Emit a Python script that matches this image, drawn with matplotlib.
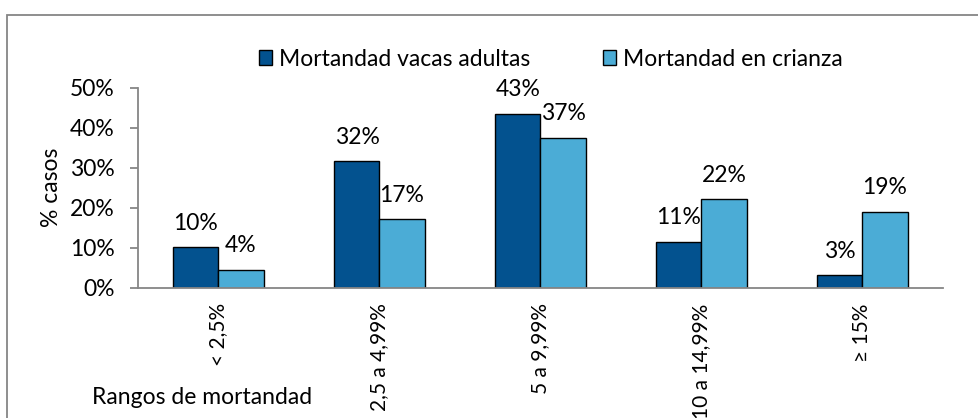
import numpy as np
import matplotlib
matplotlib.use('Agg')
import matplotlib.pyplot as plt
from matplotlib.patches import Rectangle, Patch

#Chart data
categories = ['< 2,5%', '2,5 a 4,99%', '5 a 9,99%', '10 a 14,99%', '\u2265 15%']
adultas = [10.25, 31.75, 43.5, 11.5, 3.25]
crianza = [4.5, 17.25, 37.5, 22.25, 19.0]
adultasLabels = ['10%', '32%', '43%', '11%', '3%']
crianzaLabels = ['4%', '17%', '37%', '22%', '19%']
yTicks = [0, 10, 20, 30, 40, 50]

darkBlue = '#03528F'
lightBlue = '#4BACD6'
gray = '#868686'
fs = 16.5

plt.rcParams['font.family'] = ['Lato', 'DejaVu Sans']

W, H = 979, 418
fig = plt.figure(figsize=(W / 100, H / 100), dpi=100)

#Outer chart border (runs off the right and bottom edges)
fig.patches.append(Rectangle((7 / W, -0.2), 1.2, 1.2 - 15 / H,
                             transform=fig.transFigure, fill=False,
                             edgecolor=gray, linewidth=1.3))

ax = fig.add_axes([138 / W, (H - 288) / H, (943 - 138) / W, 200 / H])

x = np.arange(len(categories))
w = 0.28
bars1 = ax.bar(x - w / 2, adultas, w, color=darkBlue, edgecolor='black', linewidth=1)
bars2 = ax.bar(x + w / 2, crianza, w, color=lightBlue, edgecolor='black', linewidth=1)

#Value labels above bars
for bars, labs in ((bars1, adultasLabels), (bars2, crianzaLabels)):
    for b, lab in zip(bars, labs):
        ax.annotate(lab, (b.get_x() + b.get_width() / 2, b.get_height()),
                    xytext=(0, 24), textcoords='offset pixels',
                    ha='center', va='center', fontsize=fs)

ax.set_xlim(-0.5, len(categories) - 0.5)
ax.set_ylim(0, 50)
ax.set_yticks(yTicks)
ax.set_yticklabels([f'{t}%' for t in yTicks], fontsize=fs)
ax.set_xticks(x)
ax.set_xticklabels(categories, rotation=90, fontsize=15, va='top')

for s in ('top', 'right'):
    ax.spines[s].set_visible(False)
for s in ('left', 'bottom'):
    ax.spines[s].set_color(gray)
    ax.spines[s].set_linewidth(1.3)
ax.tick_params(axis='y', direction='out', length=6, width=1.3, color=gray, pad=11)
ax.tick_params(axis='x', length=0, pad=11)

fig.text(52 / W, 1 - 187 / H, '% casos', rotation=90, ha='center', va='center', fontsize=fs)
fig.text(92 / W, 1 - 398 / H, 'Rangos de mortandad', ha='left', va='center', fontsize=fs)

handles = [Patch(facecolor=darkBlue, edgecolor='black', linewidth=1),
           Patch(facecolor=lightBlue, edgecolor='black', linewidth=1)]
fig.legend(handles, ['Mortandad vacas adultas', 'Mortandad en crianza'],
           loc='center', bbox_to_anchor=(551 / W, 1 - 59 / H), ncol=2,
           frameon=False, fontsize=fs, handlelength=0.57, handleheight=0.6,
           handletextpad=0.3, columnspacing=3.2, borderpad=0)

fig.savefig('out.png', dpi=100)
